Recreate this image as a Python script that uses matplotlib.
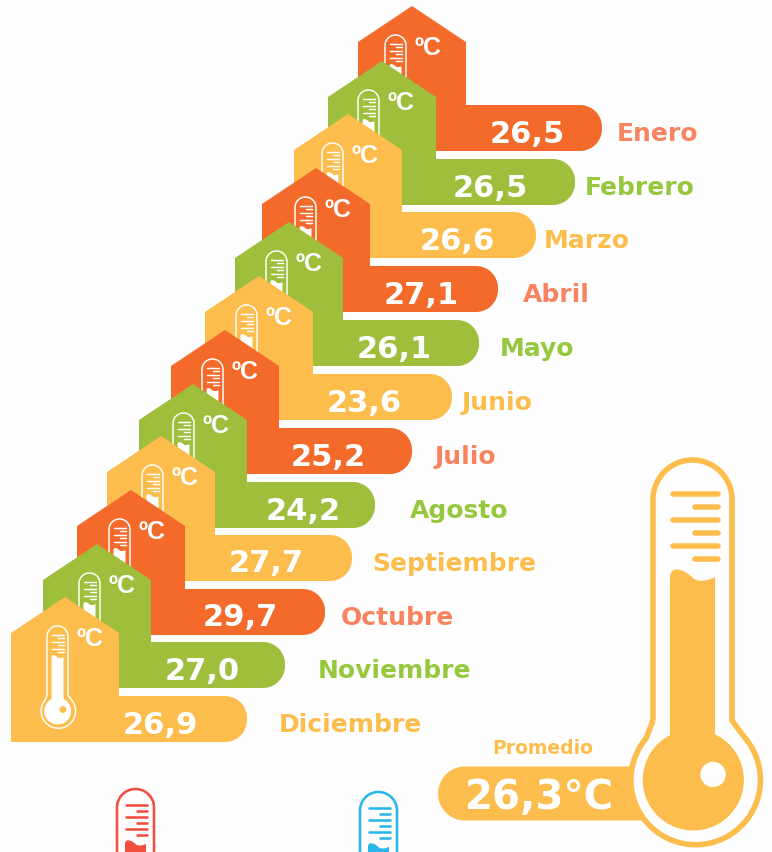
import numpy as np
import matplotlib
matplotlib.use('Agg')
import matplotlib.pyplot as plt
from matplotlib.path import Path
from matplotlib.patches import PathPatch, Circle

# datos
meses = ['Enero', 'Febrero', 'Marzo', 'Abril', 'Mayo', 'Junio', 'Julio',
         'Agosto', 'Septiembre', 'Octubre', 'Noviembre', 'Diciembre']
valores = ['26,5', '26,5', '26,6', '27,1', '26,1', '23,6', '25,2',
           '24,2', '27,7', '29,7', '27,0', '26,9']
promedio = '26,3°C'

# posiciones en pixeles, la grafica no es proporcional a los valores
casa_x = [358, 328, 294, 262, 235, 205, 171, 139, 107, 77, 43, 11]
casa_y = [7, 62, 115, 169, 223, 277, 331, 385, 437, 491, 545, 598]
barra_y = [106, 160, 213, 267, 321, 375, 429, 483, 536, 590, 643, 697]
barra_fin = [602, 575, 536, 498, 479, 452, 412, 375, 352, 325, 285, 247]
valor_x = [527, 490, 457, 421, 394, 364, 328, 303, 266, 240, 202, 160]
mes_x = [617, 585, 544, 523, 500, 461, 434, 410, 372, 341, 318, 279]
grados_x = [428, 401, 365, 338, 309, 279, 245, 216, 185, 152, 122, 90]

NARANJA, VERDE, AMARILLO = '#F36A2A', '#9EBE3C', '#FDBD4C'
colores = [NARANJA, VERDE, AMARILLO] * 4
colores_mes = ['#F8845F', '#95C83D', '#FDBD4C'] * 4
FONDO = '#FEFEFE'


def arco(cx, cy, r, a0, a1, n=40):
    # angulos en grados, el eje y va hacia abajo
    t = np.radians(np.linspace(a0, a1, n))
    return np.column_stack([cx + r * np.cos(t), cy + r * np.sin(t)])


def termometro(ax, x, y, w, color, interior, z):
    # contorno
    r = w / 2
    cx = x + r
    by = y + 4.05 * w
    R = 0.82 * w
    cuello = y + 3.3 * w
    pts = [[x, cuello]]
    pts += list(arco(cx, y + 0.5 * w, r, 180, 360))
    pts += [[x + w, cuello]]
    pts += list(arco(cx + 0.04 * w, by, R, -40, 220, 80))
    pts += [[x, cuello]]
    ax.add_patch(PathPatch(Path(np.array(pts)), fc=interior, ec=color,
                           lw=0.07 * w * 0.72, joinstyle='round', zorder=z))
    # marcas
    for k, ty in enumerate([0.43, 0.59, 0.76, 0.92, 1.09, 1.25]):
        x0 = 0.25 if k % 2 == 0 else 0.53
        ax.plot([x + x0 * w, x + 0.82 * w], [y + ty * w, y + ty * w], color=color,
                lw=0.07 * w * 0.72, solid_capstyle='round', zorder=z + 0.1)
    # liquido
    izq, der = x + 0.215 * w, x + 0.785 * w
    tope = y + 1.5 * w
    verts = [(izq, cuello + 0.3 * w), (izq, tope),
             (izq, tope - 0.2 * w), (izq + 0.2 * w, tope - 0.1 * w), (izq + 0.3 * w, tope),
             (izq + 0.36 * w, tope + 0.05 * w), (der - 0.08 * w, tope + 0.03 * w), (der, tope - 0.02 * w),
             (der, cuello + 0.3 * w), (izq, cuello + 0.3 * w)]
    codes = [Path.MOVETO, Path.LINETO, Path.CURVE4, Path.CURVE4, Path.CURVE4,
             Path.CURVE4, Path.CURVE4, Path.CURVE4, Path.LINETO, Path.CLOSEPOLY]
    ax.add_patch(PathPatch(Path(verts, codes), fc=color, ec='none', zorder=z + 0.1))
    ax.add_patch(Circle((x + 0.51 * w, by), 0.64 * w, fc=color, ec='none', zorder=z + 0.1))
    ax.add_patch(Circle((x + 0.76 * w, y + 3.98 * w), 0.16 * w, fc=interior, ec='none', zorder=z + 0.2))


fig = plt.figure(figsize=(7.72, 8.53), dpi=100, facecolor=FONDO)
ax = fig.add_axes([0, 0, 1, 1])
ax.set_xlim(0, 772)
ax.set_ylim(853, 0)
ax.axis('off')

ALTO, ANCHO, HOMBRO, RADIO = 46, 108, 36, 22
for i in range(len(meses)):
    x0, yt, by, fin = casa_x[i], casa_y[i], barra_y[i], barra_fin[i]
    z = 2 + i
    pts = [[x0, by + ALTO], [x0, yt + HOMBRO], [x0 + ANCHO / 2, yt], [x0 + ANCHO, yt + HOMBRO],
           [x0 + ANCHO, by]]
    pts += list(arco(fin - RADIO, by + RADIO, RADIO, -90, 0, 15))
    pts += list(arco(fin - RADIO, by + ALTO - RADIO, RADIO, 0, 90, 15))
    ax.add_patch(PathPatch(Path(np.array(pts)), fc=colores[i], ec='none', zorder=z))
    termometro(ax, grados_x[i] - 43, yt + 29, 21, 'white', colores[i], z + 0.1)
    ax.text(grados_x[i], yt + 41, 'ºC', color='white', fontsize=18, fontweight='bold',
            family=['Liberation Sans Narrow', 'Liberation Sans'], ha='center', va='center', zorder=z + 0.5)
    ax.text(valor_x[i], by + 28, valores[i], color='white', fontsize=22, fontweight='bold',
            ha='center', va='center', zorder=z + 0.5)
    ax.text(mes_x[i], by + 28, meses[i], color=colores_mes[i], fontsize=18, fontweight='bold',
            ha='left', va='center', zorder=z + 0.5)

# promedio
pts = list(arco(465, 794.5, 27, 90, 270, 30)) + [[670, 767.5], [670, 821.5]]
ax.add_patch(PathPatch(Path(np.array(pts)), fc=AMARILLO, ec='none', zorder=20))
termometro(ax, 653, 461, 79, AMARILLO, FONDO, 21)
ax.text(543, 749, 'Promedio', color=AMARILLO, fontsize=13.5, fontweight='bold',
        ha='center', va='center', zorder=25)
ax.text(539, 798, promedio, color='white', fontsize=29, fontweight='bold',
        ha='center', va='center', zorder=25)

# termometros de abajo, cortados por el borde
termometro(ax, 117, 790, 37, '#F04E3E', FONDO, 30)
termometro(ax, 360, 793, 37, '#29B6E8', FONDO, 30)

fig.savefig('out.png', dpi=100, facecolor=FONDO)
